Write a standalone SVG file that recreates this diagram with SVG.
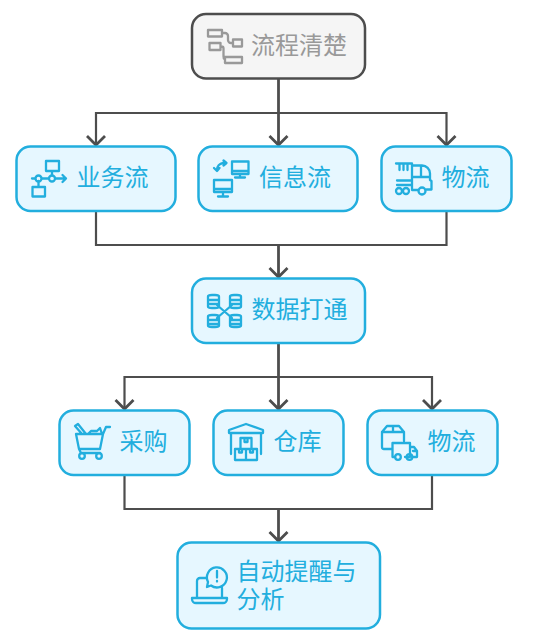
<svg xmlns="http://www.w3.org/2000/svg" width="543" height="640" viewBox="0 0 543 640">
<defs>
<style>
.n{fill:#e6f7ff;stroke:#22aede;stroke-width:2.5}
.g{fill:#f5f5f5;stroke:#4d4d4d;stroke-width:2.5}
text{font-family:"Noto Sans CJK SC","Noto Sans",sans-serif;font-size:24px;fill:#22aede}
.i{fill:none;stroke:#22aede;stroke-width:2.300;stroke-linejoin:round;stroke-linecap:round}
.c{fill:none;stroke:#4d4d4d;stroke-width:2.200}
.a{fill:none;stroke:#4d4d4d;stroke-width:2.800}
.h{fill:none;stroke:#4d4d4d;stroke-width:2.800}
</style>
</defs>
<g id="connectors">
<path class="c" d="M96 145V113H446.500V145"/>
<path class="a" d="M278.500 79V145"/>
<path class="c" d="M96 211V245H446.500V211"/>
<path class="a" d="M278.500 245V277"/>
<path class="c" d="M124.500 409V377H432V409"/>
<path class="a" d="M278.500 343V409"/>
<path class="c" d="M124.500 475V509H432V475"/>
<path class="a" d="M278.500 509V541"/>
<path class="h" d="M87 136L96 145L105 136M269.500 136L278.500 145L287.500 136M437.500 136L446.500 145L455.500 136M269.500 268L278.500 277L287.500 268M115.500 400L124.500 409L133.500 400M269.500 400L278.500 409L287.500 400M423 400L432 409L441 400M269.500 532L278.500 541L287.500 532"/>
</g>
<g id="node-top">
<rect class="g" x="192" y="14" width="173" height="64.500" rx="14"/>
<path fill="none" stroke="#999" stroke-width="2.300" stroke-linejoin="round" d="M208 30h14v6.500h-14zM233 39.500h9v7h-9zM225 57h17v6h-17zM209.500 43h11v7h-11zM222 33h3a3 3 0 0 1 3 3v4a3 3 0 0 0 3 3h2M220.500 46.500h1a2 2 0 0 1 2 2v8a3 3 0 0 0 1.500 3"/>
<text x="251" y="54" style="fill:#999">流程清楚</text>
</g>
<g id="node-yewu">
<rect class="n" x="16.500" y="146.500" width="159" height="64.500" rx="14"/>
<path class="i" d="M46 161h13v10H46zM32.500 187h12.500v9.500H32.500zM38.500 187v-6M32 178.500h3M42 178.500h6.500M55.500 178.500h10.500M62.500 175l3.500 3.500L62.500 182M52 171v4"/>
<circle class="i" cx="38.500" cy="178.500" r="3"/><circle class="i" cx="52" cy="178.500" r="3"/>
<text x="76.500" y="186">业务流</text>
</g>
<g id="node-xinxi">
<rect class="n" x="198.500" y="146.500" width="159" height="64.500" rx="14"/>
<path class="i" d="M232 161.500h16.500v12.500H232zM232 171h16.500M235 177.500h10M240 174v3.500M214 180h18v12h-18zM214 189h18M218 196.500h10M223 192v4.500M226 163h-3a7 7 0 0 0-6 7M223.500 160.500L226.500 163L223.500 165.500M214 168l3 3 2.500-3"/>
<text x="259" y="186">信息流</text>
</g>
<g id="node-wuliu1">
<rect class="n" x="381.500" y="146.500" width="130" height="64.500" rx="14"/>
<path class="i" d="M396 163.500h16v26.500M399.500 163.500v6.500M403.500 163.500v6.500M407.500 163.500v6.500M412 165.500h10a8 8 0 0 1 8 8v6.500l1.500 1v8.500h-5M412 177h18M421 165.500v11.500M397 180.500h15M397 185h15M412 190h6"/>
<circle class="i" cx="399" cy="191" r="3"/><circle class="i" cx="406" cy="191" r="3"/><circle class="i" cx="422" cy="191" r="3.500"/>
<text x="441.500" y="186">物流</text>
</g>
<g id="node-shuju">
<rect class="n" x="192" y="278.500" width="173" height="64.500" rx="14"/>
<path class="i" d="M208 296.500a4 1.500 0 0 1 4-1.500h3a4 1.500 0 0 1 4 1.500v10a4 1.500 0 0 1-4 1.500h-3a4 1.500 0 0 1-4-1.500zM208 300h11M208 304h11M230 296.500a4 1.500 0 0 1 4-1.500h3a4 1.500 0 0 1 4 1.500v10a4 1.500 0 0 1-4 1.500h-3a4 1.500 0 0 1-4-1.500zM230 300h11M230 304h11M208 316.500a4 1.500 0 0 1 4-1.500h3a4 1.500 0 0 1 4 1.500v9a4 1.500 0 0 1-4 1.500h-3a4 1.500 0 0 1-4-1.500zM208 320h11M208 324h11M230 316.500a4 1.500 0 0 1 4-1.500h3a4 1.500 0 0 1 4 1.500v9a4 1.500 0 0 1-4 1.500h-3a4 1.500 0 0 1-4-1.500zM230 320h11M230 324h11M217 305l15 13M232 305l-15 13"/>
<text x="251.500" y="318">数据打通</text>
</g>
<g id="node-caigou">
<rect class="n" x="59.500" y="410.500" width="130" height="64.500" rx="14"/>
<path class="i" d="M76 434H103L100 449H79zM103 434L106 427H110M79 449L81 453H100M82 434L75 426L78 424L86 434M88 434L91 431L97 431L100 428L102 434"/>
<circle class="i" cx="82" cy="456" r="2.800"/><circle class="i" cx="99" cy="456" r="2.800"/>
<text x="119.500" y="450">采购</text>
</g>
<g id="node-cangku">
<rect class="n" x="213.500" y="410.500" width="130" height="64.500" rx="14"/>
<path class="i" d="M231 454v-21M261 454v-21M229 433v-3l17-6 17 6v3zM240.500 438h11v11h-11zM235 449h11v11h-11zM246 449h11v11h-11zM244.500 438v4h3v-4M239 449v3.500h3V449M250 449v3.500h3V449"/>
<text x="273.500" y="450">仓库</text>
</g>
<g id="node-wuliu2">
<rect class="n" x="367.500" y="410.500" width="130" height="64.500" rx="14"/>
<path class="i" d="M391 449h-7a2 2 0 0 1-2-2v-15l5-6h12l5 6v9M382 432h22M393 426v6M392.500 455v-12h17.500v14h-5M394.500 457h-2v-2M410 447h4l3 4v6h-3.500M410 457h-3M413 451h4"/>
<circle class="i" cx="398" cy="457" r="2.800"/><circle class="i" cx="409.500" cy="457" r="2.800"/>
<text x="427.500" y="450">物流</text>
</g>
<g id="node-zidong">
<rect class="n" x="177.500" y="542.500" width="202.500" height="86" rx="14"/>
<path class="i" d="M207 578h-7a3 3 0 0 0-3 3v17M222 588v10M192 598h35v1a4 4 0 0 1-4 4h-27a4 4 0 0 1-4-4zM211 585.500l-4 1.500 1-5a10 10 0 1 1 3 3.500zM217 571v6.500M217 581v.5"/>
<text y="580"><tspan x="236.500">自动提醒与</tspan><tspan x="236.500" dy="28">分析</tspan></text>
</g>
</svg>
